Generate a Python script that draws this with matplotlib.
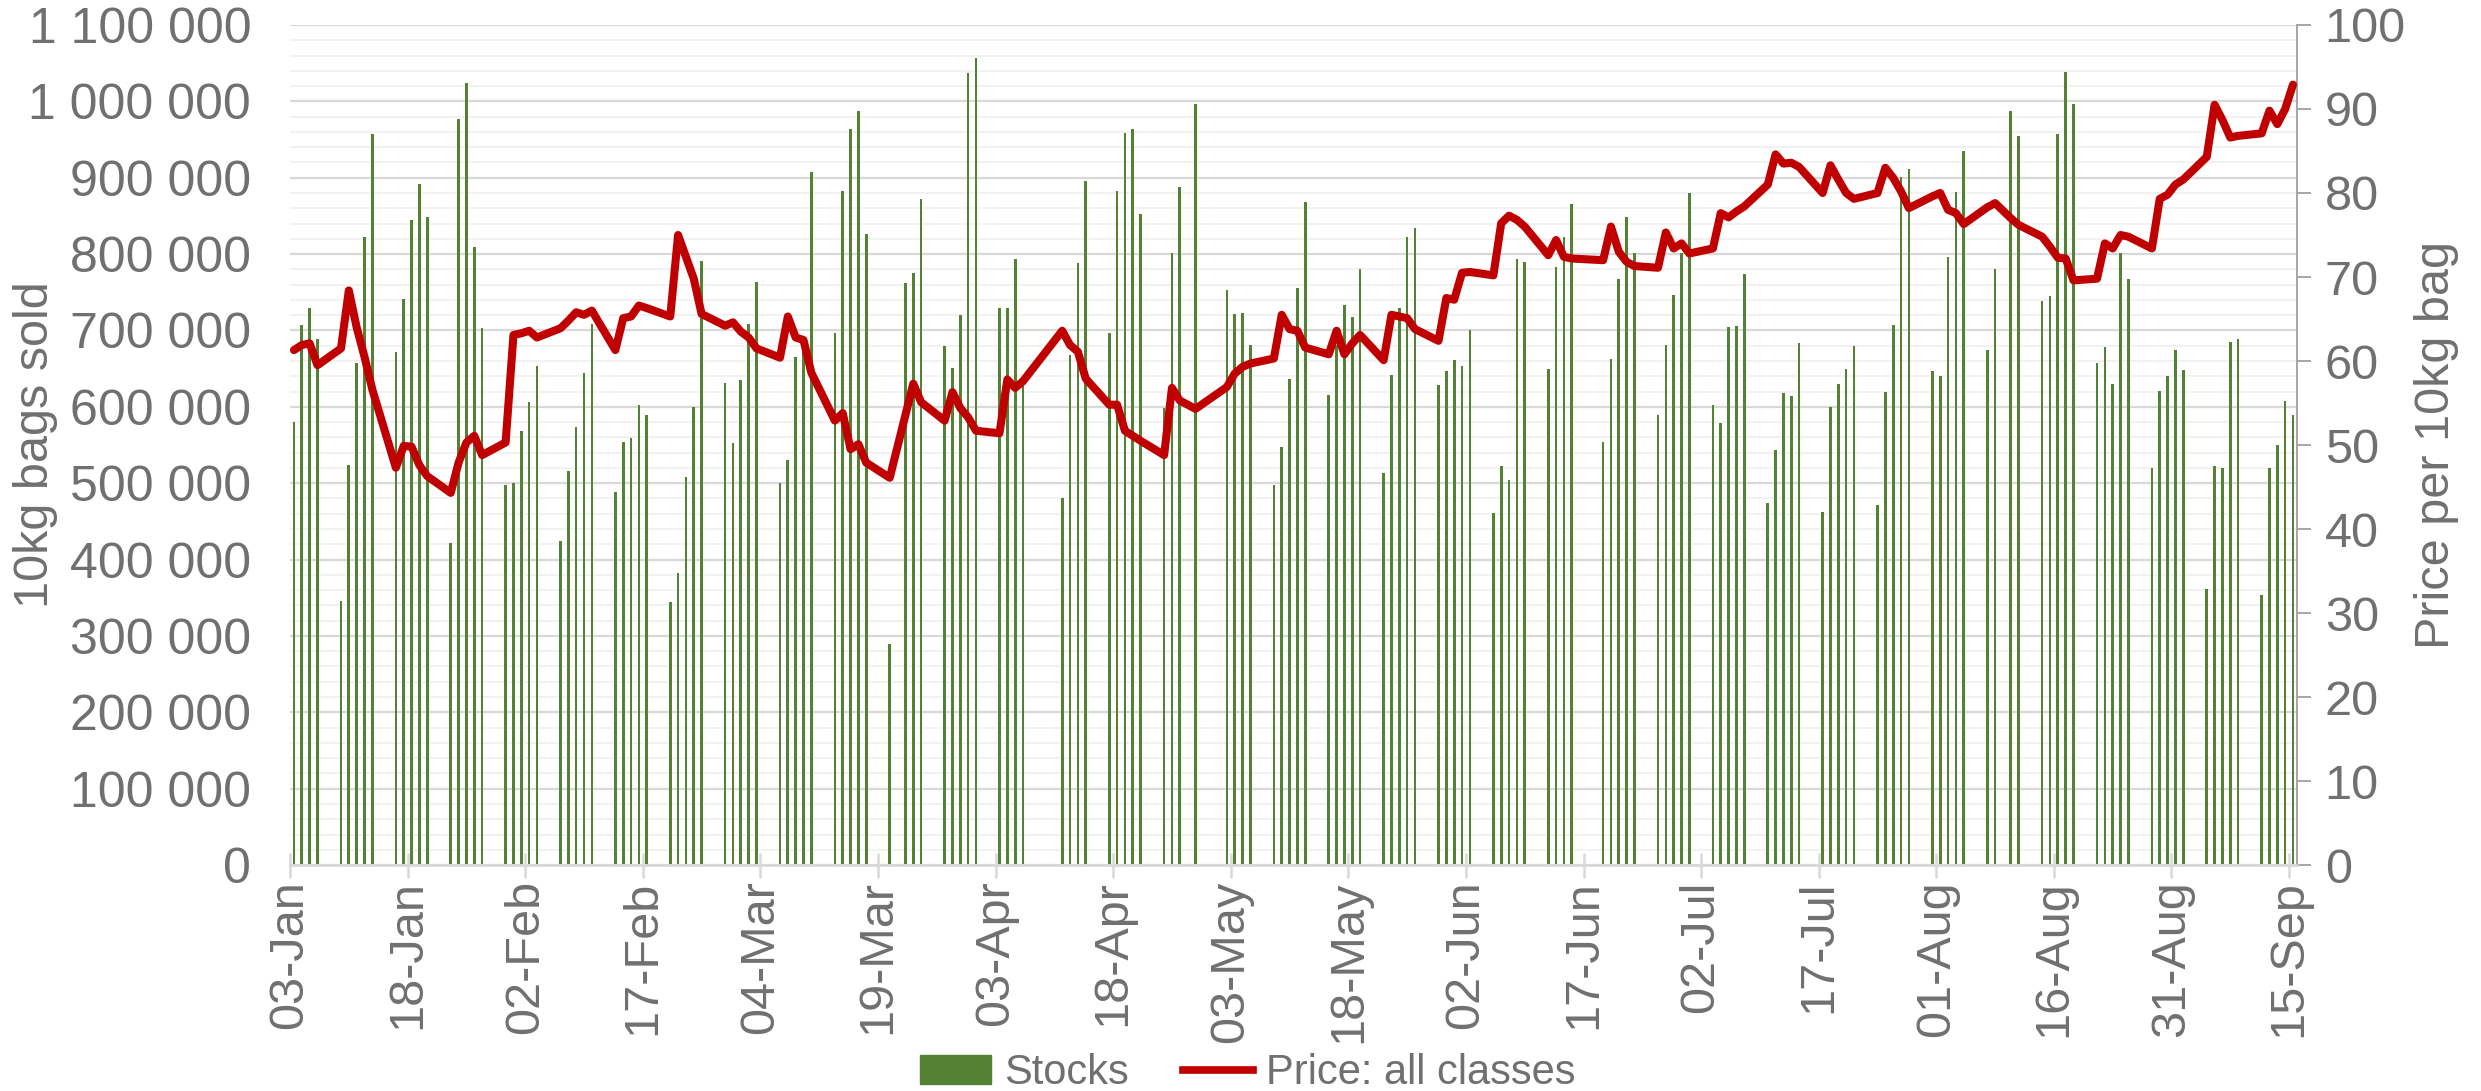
import pandas as pd
import matplotlib
matplotlib.use("Agg")
import matplotlib.pyplot as plt
import matplotlib.dates as mdates
from matplotlib.patches import Patch
from matplotlib.lines import Line2D
from matplotlib.ticker import MultipleLocator, FuncFormatter

plt.rcParams["font.family"] = ["Liberation Sans", "DejaVu Sans"]

# trading days (weekdays less SA public holidays)
holidays = ["2023-03-21", "2023-04-07", "2023-04-10", "2023-04-27",
            "2023-05-01", "2023-06-16", "2023-08-09"]
dates = pd.bdate_range("2023-01-03", "2023-09-15", freq="C", holidays=holidays)

# 10kg bags sold, thousands
stocks_k = [
    # Jan
    580, 707, 729, 689, 346, 524, 658, 823, 957, 672, 741, 844, 892, 849,
    422, 977, 1024, 809, 703, 497, 500,
    # Feb
    569, 606, 653, 424, 516, 573, 644, 709, 488, 554, 559, 603, 589, 345,
    382, 508, 600, 791, 631, 552,
    # Mar
    635, 708, 764, 500, 530, 665, 680, 907, 697, 883, 964, 988, 826, 290,
    762, 775, 872, 680, 651, 720, 1037, 1057,
    # Apr
    730, 730, 793, 627, 480, 668, 788, 896, 697, 883, 958, 964, 852, 599,
    802, 888, 996,
    # May
    753, 722, 723, 681, 498, 548, 637, 755, 868, 615, 681, 733, 718, 781,
    514, 642, 730, 823, 834, 628, 647, 661,
    # Jun
    653, 701, 461, 522, 504, 794, 790, 649, 783, 823, 866, 554, 662, 768,
    849, 802, 589, 681, 747, 802, 880,
    # Jul
    603, 579, 704, 706, 774, 474, 544, 618, 614, 683, 462, 600, 630, 650,
    680, 472, 620, 707, 901, 912, 647,
    # Aug
    641, 796, 881, 935, 674, 781, 987, 955, 739, 745, 957, 1039, 997, 658,
    678, 630, 801, 767, 520, 621, 641, 674,
    # Sep
    648, 362, 522, 520, 685, 689, 354, 520, 550, 608, 589,
]

# price per 10kg bag, all classes
price = [
    # Jan
    61.3, 61.9, 62.1, 59.5, 61.5, 68.4, 64.0, 60.5, 56.6, 47.3, 49.9, 49.8,
    47.6, 46.3, 44.3, 47.9, 50.3, 51.1, 48.8, 50.3, 63.1,
    # Feb
    63.3, 63.6, 62.8, 63.9, 64.8, 65.8, 65.5, 66.0, 61.3, 65.1, 65.3, 66.6,
    66.3, 65.3, 75.0, 72.4, 69.8, 65.6, 64.2, 64.6,
    # Mar
    63.5, 62.8, 61.5, 60.4, 65.3, 62.8, 62.5, 58.6, 52.9, 53.8, 49.5, 50.1,
    47.9, 46.1, 53.6, 57.3, 55.1, 52.9, 56.3, 54.4, 53.3, 51.7,
    # Apr
    51.4, 57.8, 56.8, 57.6, 63.6, 61.9, 61.1, 57.9, 54.8, 54.8, 51.7, 51.1,
    50.5, 48.8, 56.8, 55.3, 54.3,
    # May
    56.9, 58.5, 59.3, 59.7, 60.3, 65.5, 63.8, 63.6, 61.6, 60.8, 63.6, 60.8,
    62.1, 63.1, 60.1, 65.5, 65.3, 65.1, 63.8, 62.4, 67.5, 67.3,
    # Jun
    70.5, 70.6, 70.2, 76.4, 77.3, 76.8, 76.0, 72.6, 74.4, 72.4, 72.2, 72.0,
    76.0, 73.0, 71.8, 71.3, 71.1, 75.3, 73.4, 74.0, 72.8,
    # Jul
    73.4, 77.6, 77.1, 77.8, 78.4, 81.0, 84.6, 83.5, 83.6, 83.1, 80.0, 83.3,
    81.6, 80.0, 79.3, 80.0, 83.0, 81.8, 80.2, 78.2, 79.6,
    # Aug
    80.0, 78.0, 77.6, 76.3, 78.3, 78.8, 77.0, 76.2, 74.8, 73.6, 72.3, 72.2,
    69.6, 69.8, 74.0, 73.4, 75.0, 74.8, 73.4, 79.3, 79.8, 81.0,
    # Sep
    81.6, 84.3, 90.5, 88.7, 86.6, 86.8, 87.1, 89.8, 88.2, 90.0, 92.9,
]

tick_dates = pd.date_range("2023-01-03", "2023-09-15", freq="15D")

grey_txt = "#707070"
x = dates + pd.Timedelta(hours=12)
stocks = [v * 1000 for v in stocks_k]

fig = plt.figure(figsize=(24.81, 10.91), dpi=100)
ax = fig.add_axes([0.1169, 0.2071, 0.8089, 0.7700])
ax2 = ax.twinx()

ax.bar(x, stocks, width=0.34, color="#548235", linewidth=0, zorder=2)
ax2.plot(x, price, color="#C00000", lw=5.8, solid_joinstyle="round",
         solid_capstyle="round", zorder=3)

ax.set_xlim(pd.Timestamp("2023-01-03"), pd.Timestamp("2023-09-16"))
ax.set_ylim(0, 1100000)
ax2.set_ylim(0, 100)

ax.yaxis.set_major_locator(MultipleLocator(100000))
ax.yaxis.set_minor_locator(MultipleLocator(20000))
ax.yaxis.set_major_formatter(FuncFormatter(lambda v, p: f"{v:,.0f}".replace(",", " ")))
ax.grid(axis="y", which="major", color="#D9D9D9", lw=1.6, zorder=0)
ax.grid(axis="y", which="minor", color="#F2F2F2", lw=1.4, zorder=0)
ax.set_axisbelow(True)

ax.set_xticks(tick_dates)
ax.xaxis.set_major_formatter(mdates.DateFormatter("%d-%b"))
ax.tick_params(axis="x", direction="inout", length=18, width=1.8, color="#D9D9D9",
               labelsize=35, labelcolor=grey_txt, rotation=90, pad=2)
ax.tick_params(axis="y", which="both", length=0, labelsize=36, labelcolor=grey_txt, pad=28)
ax2.yaxis.set_major_locator(MultipleLocator(10))
ax2.tick_params(axis="y", direction="out", length=10, width=1.4, color="#A6A6A6",
                labelsize=35, labelcolor=grey_txt, pad=10)

for a in (ax, ax2):
    for s in ("top", "left", "right"):
        a.spines[s].set_visible(False)
    a.spines["bottom"].set_color("#D9D9D9")
    a.spines["bottom"].set_linewidth(1.8)
ax2.spines["right"].set_visible(True)
ax2.spines["right"].set_color("#A6A6A6")
ax2.spines["right"].set_linewidth(1.4)

ax.set_ylabel("10kg bags sold", fontsize=35, color=grey_txt, va="center")
ax.yaxis.set_label_coords(-0.127, 0.5)
ax2.set_ylabel("Price per 10kg bag", fontsize=35, color=grey_txt, va="center")
ax2.yaxis.set_label_coords(1.0697, 0.5)

handles = [Patch(color="#548235", label="Stocks"),
           Line2D([0], [0], color="#C00000", lw=5.5, label="Price: all classes")]
fig.legend(handles=handles, loc="lower center", bbox_to_anchor=(0.503, -0.002),
           ncol=2, frameon=False, fontsize=30, handlelength=1.7, handletextpad=0.3,
           columnspacing=1.3, labelcolor=grey_txt, borderpad=0, borderaxespad=0)

fig.savefig("out.png", dpi=100)
